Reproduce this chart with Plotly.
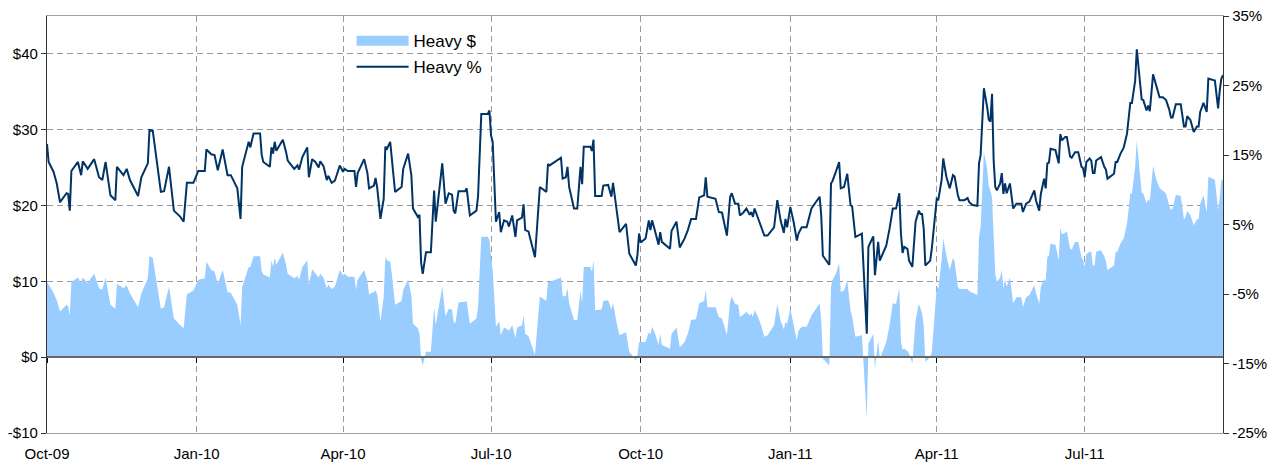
import plotly.graph_objects as go

dates = [
 "2009-10-01","2009-10-02","2009-10-05","2009-10-07","2009-10-09","2009-10-13","2009-10-14","2009-10-15","2009-10-16","2009-10-20",
 "2009-10-22","2009-10-23","2009-10-26","2009-10-30","2009-11-02","2009-11-04","2009-11-06","2009-11-09","2009-11-12","2009-11-13",
 "2009-11-17","2009-11-19","2009-11-21","2009-11-26","2009-11-28","2009-12-02","2009-12-03","2009-12-05","2009-12-10","2009-12-12",
 "2009-12-15","2009-12-18","2009-12-22","2009-12-24","2009-12-26","2009-12-30","2010-01-02","2010-01-06","2010-01-07","2010-01-10",
 "2010-01-12","2010-01-14","2010-01-17","2010-01-20","2010-01-22","2010-01-26","2010-01-28","2010-01-29","2010-02-02","2010-02-03",
 "2010-02-05","2010-02-09","2010-02-10","2010-02-11","2010-02-15","2010-02-16","2010-02-17","2010-02-18","2010-02-19","2010-02-23",
 "2010-02-25","2010-02-26","2010-03-02","2010-03-04","2010-03-05","2010-03-07","2010-03-10","2010-03-11","2010-03-13","2010-03-15",
 "2010-03-17","2010-03-18","2010-03-20","2010-03-22","2010-03-23","2010-03-25","2010-03-27","2010-03-30","2010-04-01","2010-04-02",
 "2010-04-04","2010-04-08","2010-04-09","2010-04-10","2010-04-14","2010-04-16","2010-04-17","2010-04-20","2010-04-21","2010-04-22",
 "2010-04-24","2010-04-26","2010-04-27","2010-04-28","2010-04-30","2010-05-01","2010-05-03","2010-05-07","2010-05-08","2010-05-11",
 "2010-05-13","2010-05-14","2010-05-17","2010-05-18","2010-05-19","2010-05-20","2010-05-22","2010-05-25","2010-05-27","2010-05-28",
 "2010-05-30","2010-06-01","2010-06-03","2010-06-05","2010-06-07","2010-06-08","2010-06-09","2010-06-11","2010-06-15","2010-06-16",
 "2010-06-18","2010-06-22","2010-06-23","2010-06-25","2010-06-29","2010-06-30","2010-07-01","2010-07-02","2010-07-04","2010-07-06",
 "2010-07-07","2010-07-09","2010-07-11","2010-07-12","2010-07-14","2010-07-16","2010-07-17","2010-07-20","2010-07-21","2010-07-22",
 "2010-07-24","2010-07-28","2010-07-31","2010-08-04","2010-08-05","2010-08-06","2010-08-13","2010-08-14","2010-08-16","2010-08-17",
 "2010-08-18","2010-08-21","2010-08-23","2010-08-25","2010-08-26","2010-08-27","2010-08-31","2010-09-01","2010-09-02","2010-09-03",
 "2010-09-07","2010-09-08","2010-09-11","2010-09-13","2010-09-14","2010-09-16","2010-09-18","2010-09-22","2010-09-24","2010-09-28",
 "2010-09-29","2010-09-30","2010-10-01","2010-10-04","2010-10-06","2010-10-07","2010-10-08","2010-10-10","2010-10-12","2010-10-13",
 "2010-10-14","2010-10-19","2010-10-20","2010-10-23","2010-10-25","2010-10-28","2010-10-30","2010-11-01","2010-11-04","2010-11-06",
 "2010-11-09","2010-11-10","2010-11-11","2010-11-16","2010-11-18","2010-11-20","2010-11-23","2010-11-25","2010-11-26","2010-11-28",
 "2010-11-30","2010-12-01","2010-12-03","2010-12-05","2010-12-07","2010-12-08","2010-12-09","2010-12-10","2010-12-12","2010-12-14",
 "2010-12-16","2010-12-18","2010-12-22","2010-12-24","2010-12-26","2010-12-28","2010-12-29","2010-12-30","2011-01-01","2011-01-03",
 "2011-01-05","2011-01-06","2011-01-08","2011-01-11","2011-01-14","2011-01-19","2011-01-20","2011-01-21","2011-01-25","2011-01-26",
 "2011-01-27","2011-01-29","2011-01-31","2011-02-01","2011-02-03","2011-02-05","2011-02-07","2011-02-08","2011-02-10","2011-02-14",
 "2011-02-17","2011-02-18","2011-02-21","2011-02-22","2011-02-24","2011-02-25","2011-03-01","2011-03-03","2011-03-05","2011-03-07",
 "2011-03-09","2011-03-10","2011-03-11","2011-03-12","2011-03-14","2011-03-15","2011-03-17","2011-03-19","2011-03-21","2011-03-22",
 "2011-03-23","2011-03-24","2011-03-25","2011-03-28","2011-03-29","2011-04-01","2011-04-02","2011-04-04","2011-04-05","2011-04-07",
 "2011-04-09","2011-04-11","2011-04-12","2011-04-14","2011-04-15","2011-04-18","2011-04-20","2011-04-21","2011-04-23","2011-04-26",
 "2011-04-27","2011-04-28","2011-04-30","2011-05-02","2011-05-03","2011-05-04","2011-05-05","2011-05-06","2011-05-07","2011-05-08",
 "2011-05-10","2011-05-11","2011-05-12","2011-05-13","2011-05-14","2011-05-16","2011-05-18","2011-05-20","2011-05-23","2011-05-24",
 "2011-05-26","2011-05-28","2011-05-31","2011-06-01","2011-06-03","2011-06-04","2011-06-06","2011-06-07","2011-06-08","2011-06-09",
 "2011-06-10","2011-06-13","2011-06-15","2011-06-16","2011-06-17","2011-06-19","2011-06-20","2011-06-22","2011-06-23","2011-06-25",
 "2011-06-27","2011-06-29","2011-06-30","2011-07-01","2011-07-02","2011-07-04","2011-07-05","2011-07-06","2011-07-07","2011-07-08",
 "2011-07-11","2011-07-13","2011-07-14","2011-07-15","2011-07-19","2011-07-20","2011-07-21","2011-07-23","2011-07-25","2011-07-27",
 "2011-07-29","2011-07-30","2011-08-01","2011-08-02","2011-08-05","2011-08-06","2011-08-08","2011-08-09","2011-08-10","2011-08-12",
 "2011-08-14","2011-08-16","2011-08-18","2011-08-20","2011-08-22","2011-08-23","2011-08-24","2011-08-26","2011-08-29","2011-08-31",
 "2011-09-01","2011-09-02","2011-09-04","2011-09-06","2011-09-08","2011-09-09","2011-09-10","2011-09-12","2011-09-14","2011-09-15",
 "2011-09-19","2011-09-21","2011-09-22","2011-09-23","2011-09-24",
]

heavy_pct = [
 16.6,14.0,12.6,10.9,8.2,9.5,9.4,7.0,12.7,14.0,
 12.1,14.1,13.0,14.4,11.8,11.4,14.0,9.2,8.5,13.3,
 12.1,13.0,11.4,9.1,11.8,13.8,18.6,18.5,9.7,9.8,
 13.3,7.0,6.1,5.4,11.0,11.0,12.7,12.7,15.8,15.1,
 15.0,12.8,15.8,12.1,12.1,10.2,5.8,13.3,16.9,16.1,
 18.1,18.1,15.0,14.0,13.3,16.1,15.2,16.9,15.6,17.2,
 15.4,14.2,13.0,13.5,12.9,14.7,16.1,11.8,14.4,14.0,
 13.2,14.1,13.4,11.4,12.0,11.0,11.3,13.5,12.6,13.0,
 12.7,12.7,10.4,12.4,14.4,12.4,10.2,10.6,11.7,10.3,
 5.8,8.7,16.2,15.9,16.9,14.2,9.7,10.4,13.0,15.2,
 12.1,7.3,6.1,6.4,-0.5,-2.1,1.0,1.0,9.9,5.4,
 9.9,13.8,8.0,9.5,9.3,7.0,6.6,9.8,9.8,10.2,
 6.3,7.0,9.0,20.9,20.9,21.4,17.8,16.9,5.4,6.8,
 3.9,5.6,5.4,4.7,6.3,3.2,5.6,6.0,7.9,4.2,
 4.0,0.3,10.4,9.7,13.7,13.5,14.6,11.6,11.8,13.3,
 10.4,7.3,7.3,13.3,10.8,16.2,16.2,15.6,17.2,9.1,
 9.1,10.6,10.7,9.0,11.0,7.8,3.9,5.1,0.8,-0.9,
 0.6,3.7,2.4,3.0,5.6,4.2,5.6,3.9,2.1,3.9,
 2.5,1.5,4.1,5.4,1.7,3.0,4.2,5.8,5.8,8.9,
 9.2,11.8,9.0,8.7,6.8,6.7,3.4,9.0,9.5,8.0,
 8.0,6.3,6.7,7.3,6.4,6.8,6.1,7.3,6.0,4.9,
 3.4,3.4,4.6,8.5,5.6,3.8,5.8,4.6,7.5,5.4,
 2.7,3.7,4.6,4.6,7.3,9.0,6.3,0.5,-0.8,10.9,
 11.3,12.6,14.0,10.2,10.4,12.3,7.8,7.6,3.2,3.7,
 -10.7,1.8,3.3,-2.3,2.5,-0.2,2.0,4.4,7.3,7.3,
 9.5,3.7,0.9,1.8,1.5,-0.2,-1.1,5.4,7.0,6.5,
 6.5,4.4,-0.9,-0.2,1.6,8.7,8.6,11.4,14.5,11.8,
 10.2,12.1,11.9,9.2,8.5,8.5,8.8,8.2,7.8,7.7,
 13.8,15.0,24.6,21.9,20.1,19.8,23.8,14.2,10.4,9.9,
 10.9,12.4,9.4,10.9,9.5,10.9,7.3,8.0,8.0,6.8,
 8.0,8.3,9.9,8.5,7.0,9.4,11.6,10.2,13.8,13.9,
 15.9,15.7,13.8,18.0,17.1,17.6,17.6,14.8,14.6,15.4,
 15.4,13.3,13.1,11.8,14.0,14.5,14.2,12.4,12.4,14.2,
 14.7,13.3,12.9,11.6,12.3,14.0,14.0,15.2,16.1,18.1,
 22.5,22.5,25.7,30.2,23.0,22.9,21.4,22.1,21.3,26.6,
 24.8,23.3,23.3,22.9,21.5,20.4,20.4,22.3,22.3,19.1,
 19.1,20.6,20.0,18.3,19.1,19.1,21.2,22.5,21.2,26.0,
 25.7,21.7,24.3,26.0,26.5,
]

heavy_usd = [
 9.9,9.6,8.5,7.5,6.0,6.9,6.7,5.5,9.9,10.5,
 9.8,10.5,9.8,11.0,9.1,8.9,10.5,6.9,6.4,9.7,
 9.1,9.5,8.4,6.6,8.4,10.4,13.3,13.1,6.4,6.6,
 9.3,5.1,4.2,3.8,8.3,8.8,10.2,10.4,12.6,11.5,
 11.3,9.7,11.5,8.6,8.5,6.9,4.2,9.3,11.9,11.9,
 13.3,13.3,11.3,10.9,10.5,12.8,11.9,13.1,12.2,13.8,
 12.2,11.0,10.4,10.7,10.2,11.9,12.8,9.5,11.6,11.1,
 10.5,11.0,10.5,9.1,9.6,9.0,9.3,11.5,10.8,11.0,
 10.6,10.6,8.9,10.2,11.5,10.0,8.3,8.6,8.8,8.3,
 4.7,7.9,13.2,12.8,12.6,11.0,6.9,7.4,8.9,10.2,
 8.2,4.4,3.8,3.1,-0.2,-1.1,0.7,0.7,6.6,4.2,
 6.6,9.3,5.4,6.4,6.3,4.7,4.4,7.2,7.3,7.4,
 4.4,5.1,6.6,15.9,15.9,15.5,13.2,11.5,4.0,4.7,
 2.9,3.9,3.7,3.5,4.2,2.5,3.9,4.2,5.5,3.1,
 2.8,0.3,8.0,7.4,9.9,9.9,10.5,8.0,8.1,9.1,
 7.1,4.9,4.9,8.8,7.1,11.9,11.9,11.3,12.8,6.2,
 6.3,7.4,7.5,6.3,7.1,4.7,2.9,3.3,0.7,-0.4,
 0.3,2.0,2.0,2.0,3.3,3.0,4.0,3.0,1.6,3.1,
 1.6,1.1,3.1,3.9,1.3,2.0,3.1,4.9,5.0,7.1,
 7.4,8.9,6.6,6.6,5.3,5.1,2.9,7.3,8.0,7.0,
 6.9,5.3,5.6,6.0,5.5,5.8,5.3,6.2,5.4,4.2,
 2.7,2.9,4.2,7.0,4.8,3.7,4.6,4.4,6.4,4.2,
 2.2,3.5,4.0,4.0,5.5,7.1,4.9,-0.2,-1.1,9.3,
 10.2,11.0,12.4,8.6,8.8,10.1,6.2,5.3,2.7,2.9,
 -8.1,1.8,3.1,-1.5,2.2,-0.2,2.0,4.2,7.1,7.0,
 9.1,2.0,1.0,1.1,0.8,0.5,-0.8,4.9,7.0,6.5,
 5.8,4.2,-0.6,0.0,0.7,9.3,9.1,12.8,15.7,13.3,
 11.5,13.1,12.6,9.3,9.0,9.0,9.0,8.7,8.5,8.2,
 15.9,17.2,27.1,24.8,22.5,22.0,21.0,15.9,11.0,9.9,
 10.5,11.5,9.1,10.3,9.3,10.5,7.1,7.9,7.9,6.6,
 7.9,8.2,9.5,8.5,7.0,9.3,10.3,10.0,13.2,13.4,
 15.0,14.8,12.8,17.1,16.2,16.4,16.6,14.3,14.2,15.2,
 15.2,13.2,12.8,11.9,13.6,13.9,13.9,12.1,12.1,13.9,
 14.1,13.3,12.7,11.5,12.1,13.9,13.9,15.0,15.7,17.6,
 21.6,21.6,25.1,28.6,21.7,21.6,20.3,20.8,20.6,25.2,
 23.4,22.3,22.0,21.6,19.9,19.4,19.6,21.4,21.3,18.2,
 18.5,19.3,18.7,17.4,18.2,18.2,20.2,21.4,19.1,23.8,
 23.4,19.4,21.0,23.4,23.4,
]

tick_dates = ["2009-10-01","2010-01-01","2010-04-01","2010-07-01","2010-10-01",
              "2011-01-01","2011-04-01","2011-07-01"]
tick_labels = ["Oct-09","Jan-10","Apr-10","Jul-10","Oct-10","Jan-11","Apr-11","Jul-11"]
usd_ticks = [-10, 0, 10, 20, 30, 40]
usd_labels = ["-$10", "$0", "$10", "$20", "$30", "$40"]
pct_ticks = [-25, -15, -5, 5, 15, 25, 35]
pct_labels = ["-25%", "-15%", "-5%", "5%", "15%", "25%", "35%"]

x_range = ["2009-10-01", "2011-09-24"]
FONT = "Liberation Sans, Arial, sans-serif"
AREA = "#99CCFF"
LINE = "#003366"

fig = go.Figure()
fig.add_trace(go.Scatter(
    x=dates, y=heavy_usd, name="Heavy $", mode="lines",
    line=dict(width=0, color=AREA), fill="tozeroy", fillcolor=AREA,
    showlegend=False, yaxis="y", xaxis="x"))
# legend-only swatch for the area series
fig.add_trace(go.Scatter(
    x=[None], y=[None], name="Heavy $", mode="lines",
    line=dict(width=12, color=AREA), legendgroup="a", yaxis="y", xaxis="x"))
fig.add_trace(go.Scatter(
    x=dates, y=heavy_pct, name="Heavy %", mode="lines",
    line=dict(width=2, color=LINE), legendgroup="b", yaxis="y2", xaxis="x"))
# invisible helper trace for the zero-line axis
fig.add_trace(go.Scatter(x=x_range, y=[0, 0], mode="lines", line=dict(width=0),
                         showlegend=False, hoverinfo="skip", xaxis="x2", yaxis="y"))

fig.update_layout(
    width=1278, height=464,
    margin=dict(l=47, r=55, t=16, b=31, autoexpand=False),
    paper_bgcolor="white", plot_bgcolor="white",
    font=dict(family=FONT, size=15, color="#000000"),
    showlegend=True,
    legend=dict(x=0.259, y=0.983, xanchor="left", yanchor="top",
                bgcolor="rgba(0,0,0,0)", font=dict(size=17, family=FONT),
                itemwidth=52, tracegroupgap=1),
    xaxis=dict(type="date", range=x_range, tickvals=tick_dates, ticktext=tick_labels,
               showgrid=True, gridcolor="#9a9a9a", griddash="6px,4px", gridwidth=1,
               showline=True, linecolor="#a0a0a0", linewidth=1, mirror=True,
               ticks="outside", ticklen=7, tickcolor="rgba(0,0,0,0)",
               zeroline=False, automargin=False),
    xaxis2=dict(type="date", range=x_range, overlaying="x", anchor="free", position=10/55,
                tickvals=tick_dates, showticklabels=False, ticks="outside", ticklen=5,
                tickcolor="#000000", showgrid=False, showline=True, linecolor="#666666",
                linewidth=1.5, layer="above traces", zeroline=False, automargin=False),
    yaxis=dict(range=[-10, 45], tickvals=usd_ticks, ticktext=usd_labels,
               showgrid=True, gridcolor="#9a9a9a", griddash="6px,4px", gridwidth=1,
               showline=True, linecolor="#333333", linewidth=1.3,
               ticks="outside", ticklen=5, tickcolor="#333333",
               zeroline=False, automargin=False),
    yaxis2=dict(range=[-25, 35], tickvals=pct_ticks, ticktext=pct_labels,
                overlaying="y", side="right", anchor="x",
                showgrid=False, showline=True, linecolor="#333333", linewidth=1.3,
                ticks="outside", ticklen=5, tickcolor="#333333", zeroline=False,
                automargin=False),
)

fig.write_html("out.html",
               config={"displayModeBar": False},
               post_script="document.body.style.margin='0';document.body.style.overflow='hidden';")
